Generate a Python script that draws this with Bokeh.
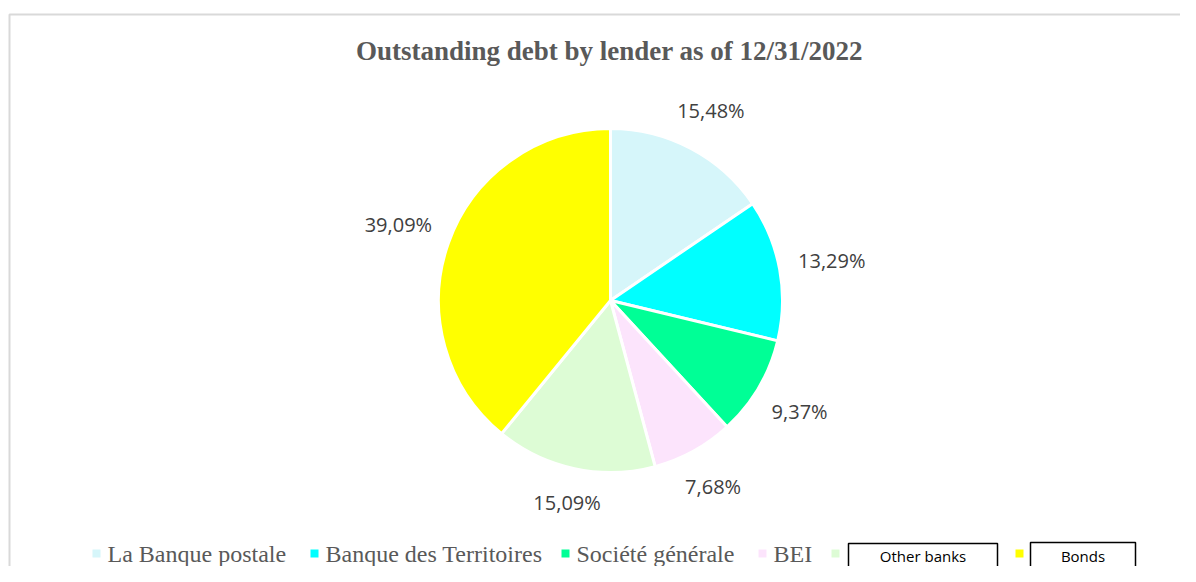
import math
from bokeh.plotting import figure
from bokeh.models import ColumnDataSource, Range1d
from bokeh.core.properties import value
from bokeh.embed import file_html
from bokeh.resources import INLINE

# ---- data ----
categories = ["La Banque postale", "Banque des Territoires", "Société générale",
              "BEI", "Other banks", "Bonds"]
shares = [15.48, 13.29, 9.37, 7.68, 15.09, 39.09]
colors = ["#d6f6fa", "#00ffff", "#00ff96", "#fce4fc", "#ddfcd5", "#ffff00"]
title_text = "Outstanding debt by lender as of 12/31/2022"

# ---- layout (pixels) ----
W, H = 1180, 566
CX, CY, R = 610, 266, 172
LABEL_GAP = 17
CHAR_W, HALF_H = 11.5, 11
legend_text_x = [107, 325, 576, 773, 846, 1030]
legend_y = 13

p = figure(width=W, height=H, output_backend="svg", toolbar_location=None,
           x_range=Range1d(0, W), y_range=Range1d(0, H), min_border=0,
           background_fill_color="white", border_fill_color="white")
p.axis.visible = False
p.grid.visible = False
p.outline_line_color = None

# chart border (top/left visible)
p.line([9, 9, W + 10], [-10, 552, 552], line_color="#d9d9d9", line_width=2)

# pie
total = sum(shares)
starts, ends, lx, ly, labels = [], [], [], [], []
cum = 0.0
for s in shares:
    f0 = cum / total
    cum += s
    f1 = cum / total
    starts.append(math.pi / 2 - f0 * 2 * math.pi)
    ends.append(math.pi / 2 - f1 * 2 * math.pi)
    th = (f0 + f1) / 2 * 2 * math.pi
    lab = f"{s:.2f}%".replace(".", ",")
    ux, uy = math.sin(th), math.cos(th)
    d = R + LABEL_GAP + len(lab) * CHAR_W / 2 * abs(ux) + HALF_H * abs(uy)
    lx.append(CX + d * ux)
    ly.append(CY + d * uy)
    labels.append(lab)

src = ColumnDataSource(dict(start=starts, end=ends, color=colors, cat=categories,
                            lx=lx, ly=ly, lab=labels))
p.wedge(x=CX, y=CY, radius=R, start_angle="start", end_angle="end",
        direction="clock", fill_color="color", line_color="white",
        line_width=3, source=src)

p.text(x="lx", y="ly", text="lab", source=src, text_align="center",
       text_baseline="middle", text_font=value("Open Sans"),
       text_font_size="20px", text_color="#404040")

# title
p.text(x=[609], y=[516], text=[title_text], text_align="center",
       text_baseline="middle", text_font=value("Liberation Serif"),
       text_font_style="bold", text_font_size="27px", text_color="#595959")

# legend
mx = [x - 11 for x in legend_text_x]
p.rect(x=mx, y=[legend_y] * len(mx), width=8, height=8, fill_color=colors,
       line_color=None)
p.text(x=legend_text_x[:4], y=[legend_y] * 4, text=categories[:4],
       text_align="left", text_baseline="middle",
       text_font=value("Liberation Serif"), text_font_size="24px",
       text_color="#595959")

# overlaid text boxes
p.quad(left=[848, 1030], right=[997, 1135], top=[23, 24], bottom=[-10, -10],
       fill_color="white", line_color="black", line_width=1.5)
p.text(x=[922.5, 1082.5], y=[11, 11], text=[categories[4], categories[5]],
       text_align="center", text_baseline="middle",
       text_font=value("Open Sans"), text_font_size="15px", text_color="black")

open("out.html", "w").write(file_html(p, INLINE))
